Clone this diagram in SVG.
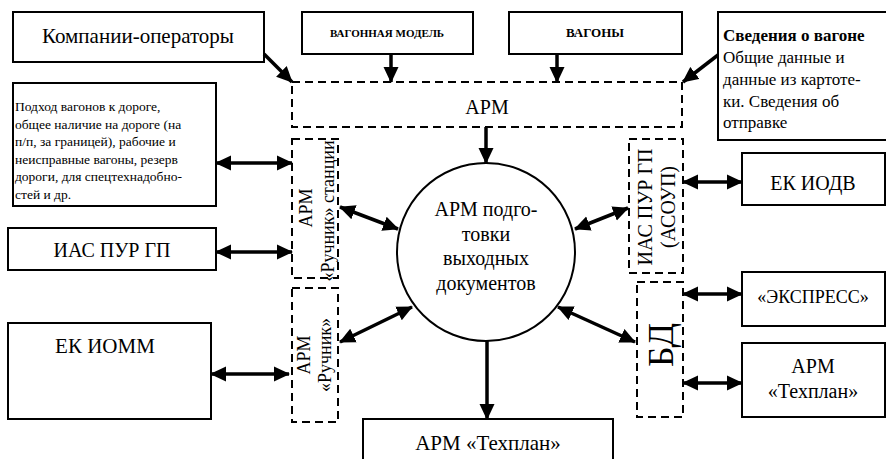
<svg xmlns="http://www.w3.org/2000/svg" width="886" height="459" viewBox="0 0 886 459">
  <defs>
    <marker id="head" viewBox="0 0 16 16" refX="15" refY="8" markerWidth="16" markerHeight="16" markerUnits="userSpaceOnUse" orient="auto-start-reverse">
      <path d="M0,0.5 L16,8 L0,15.5 z" fill="#000"/>
    </marker>
  </defs>
  <rect width="886" height="459" fill="#fff"/>

  <!-- top sources -->
  <g id="operators">
    <rect x="13" y="12" width="251" height="50" fill="#fff" stroke="#000" stroke-width="2"/>
    <text x="138" y="43" font-family="Liberation Serif" font-size="21" text-anchor="middle">Компании-операторы</text>
  </g>
  <g id="wagon-model">
    <rect x="302" y="12" width="171" height="42" fill="#fff" stroke="#000" stroke-width="2"/>
    <text x="387" y="37" font-family="Liberation Serif" font-size="11" font-weight="bold" text-anchor="middle">ВАГОННАЯ МОДЕЛЬ</text>
  </g>
  <g id="wagons">
    <rect x="509" y="12" width="173" height="42" fill="#fff" stroke="#000" stroke-width="2"/>
    <text x="595" y="37" font-family="Liberation Serif" font-size="13" font-weight="bold" text-anchor="middle">ВАГОНЫ</text>
  </g>
  <g id="wagon-info">
    <rect x="718" y="12" width="172" height="128" fill="#fff" stroke="#000" stroke-width="2"/>
    <text x="723" y="41" font-family="Liberation Serif" font-size="17" font-weight="bold">Сведения о вагоне</text>
    <text x="723" y="63" font-family="Liberation Serif" font-size="17">Общие данные и</text>
    <text x="723" y="85" font-family="Liberation Serif" font-size="17">данные из картоте-</text>
    <text x="723" y="107" font-family="Liberation Serif" font-size="17">ки. Сведения об</text>
    <text x="723" y="128" font-family="Liberation Serif" font-size="17">отправке</text>
  </g>

  <!-- collecting workstation -->
  <g id="arm-top">
    <rect x="292" y="82" width="390" height="45" fill="none" stroke="#000" stroke-width="2" stroke-dasharray="8 5"/>
    <text x="487" y="114" font-family="Liberation Serif" font-size="20" text-anchor="middle">АРМ</text>
  </g>

  <!-- left side -->
  <g id="approach">
    <rect x="13" y="83" width="203" height="123" fill="#fff" stroke="#000" stroke-width="2"/>
    <text x="15" y="111" font-family="Liberation Serif" font-size="13.5">Подход вагонов к дороге,</text>
    <text x="15" y="128.5" font-family="Liberation Serif" font-size="13.5">общее наличие на дороге (на</text>
    <text x="15" y="146" font-family="Liberation Serif" font-size="13.5">п/п, за границей), рабочие и</text>
    <text x="15" y="163.5" font-family="Liberation Serif" font-size="13.5">неисправные вагоны, резерв</text>
    <text x="15" y="181" font-family="Liberation Serif" font-size="13.5">дороги, для спецтехнадобно-</text>
    <text x="15" y="198.5" font-family="Liberation Serif" font-size="13.5">стей и др.</text>
  </g>
  <g id="ias-left">
    <rect x="8" y="228" width="208" height="42" fill="#fff" stroke="#000" stroke-width="2"/>
    <text x="112" y="257" font-family="Liberation Serif" font-size="20" text-anchor="middle">ИАС ПУР ГП</text>
  </g>
  <g id="ek-iomm">
    <rect x="8" y="323" width="203" height="96" fill="#fff" stroke="#000" stroke-width="2"/>
    <text x="105" y="353" font-family="Liberation Serif" font-size="21" text-anchor="middle">ЕК ИОММ</text>
  </g>
  <g id="arm-station">
    <rect x="292" y="139" width="46" height="139" fill="none" stroke="#000" stroke-width="2" stroke-dasharray="8 5"/>
    <text font-family="Liberation Serif" font-size="18" text-anchor="middle" transform="translate(312,208) rotate(-90)">АРМ</text>
    <text font-family="Liberation Serif" font-size="18" text-anchor="middle" transform="translate(334,211) rotate(-90)">«Ручник» станции</text>
  </g>
  <g id="arm-manual">
    <rect x="292" y="288" width="46" height="134" fill="none" stroke="#000" stroke-width="2" stroke-dasharray="8 5"/>
    <text font-family="Liberation Serif" font-size="18" text-anchor="middle" transform="translate(310,355) rotate(-90)">АРМ</text>
    <text font-family="Liberation Serif" font-size="18" text-anchor="middle" transform="translate(331,355) rotate(-90)">«Ручник»</text>
  </g>

  <!-- centre -->
  <g id="arm-output">
    <circle cx="486" cy="252" r="89" fill="#fff" stroke="#000" stroke-width="2"/>
    <text x="486" y="216" font-family="Liberation Serif" font-size="20" text-anchor="middle">АРМ подго-</text>
    <text x="486" y="241" font-family="Liberation Serif" font-size="20" text-anchor="middle">товки</text>
    <text x="486" y="265" font-family="Liberation Serif" font-size="20" text-anchor="middle">выходных</text>
    <text x="486" y="290" font-family="Liberation Serif" font-size="20" text-anchor="middle">документов</text>
  </g>

  <!-- right side -->
  <g id="ias-asoup">
    <rect x="629" y="139" width="54" height="134" fill="none" stroke="#000" stroke-width="2" stroke-dasharray="8 5"/>
    <text font-family="Liberation Serif" font-size="20" text-anchor="middle" transform="translate(652,207) rotate(-90)">ИАС ПУР ГП</text>
    <text font-family="Liberation Serif" font-size="20" text-anchor="middle" transform="translate(675,207) rotate(-90)">(АСОУП)</text>
  </g>
  <g id="db">
    <rect x="637" y="282" width="46" height="135" fill="none" stroke="#000" stroke-width="2" stroke-dasharray="8 5"/>
    <text font-family="Liberation Serif" font-size="36" text-anchor="middle" transform="translate(673,345) rotate(-90)">БД</text>
  </g>
  <g id="ek-iodv">
    <rect x="742" y="153" width="143" height="52" fill="#fff" stroke="#000" stroke-width="2"/>
    <text x="813" y="190" font-family="Liberation Serif" font-size="20" text-anchor="middle">ЕК ИОДВ</text>
  </g>
  <g id="express">
    <rect x="742" y="272" width="143" height="54" fill="#fff" stroke="#000" stroke-width="2"/>
    <text x="813" y="303" font-family="Liberation Serif" font-size="18" text-anchor="middle">«ЭКСПРЕСС»</text>
  </g>
  <g id="techplan-right">
    <rect x="742" y="343" width="143" height="74" fill="#fff" stroke="#000" stroke-width="2"/>
    <text x="813" y="373" font-family="Liberation Serif" font-size="20" text-anchor="middle">АРМ</text>
    <text x="813" y="398" font-family="Liberation Serif" font-size="20" text-anchor="middle">«Техплан»</text>
  </g>

  <!-- bottom -->
  <g id="techplan-bottom">
    <rect x="363" y="419" width="250" height="60" fill="#fff" stroke="#000" stroke-width="2"/>
    <text x="488" y="450" font-family="Liberation Serif" font-size="21" text-anchor="middle">АРМ «Техплан»</text>
  </g>

  <!-- connectors: single-headed arrows, then double-headed links -->
  <g id="connectors" stroke="#000" stroke-width="3.5" fill="none" marker-end="url(#head)">
    <line x1="264" y1="54" x2="292" y2="82"/>
    <line x1="391" y1="54" x2="391" y2="82"/>
    <line x1="557" y1="54" x2="557" y2="82"/>
    <line x1="718" y1="55" x2="683" y2="82"/>
    <line x1="486" y1="127" x2="486" y2="163"/>
    <line x1="487" y1="341" x2="487" y2="419"/>
    <g marker-start="url(#head)">
      <line x1="216" y1="163" x2="292" y2="163"/>
      <line x1="216" y1="252" x2="292" y2="252"/>
      <line x1="211" y1="374" x2="289" y2="374"/>
      <line x1="340" y1="207" x2="398" y2="229"/>
      <line x1="340" y1="342" x2="412" y2="307"/>
      <line x1="628" y1="208" x2="575" y2="229"/>
      <line x1="635" y1="342" x2="558" y2="307"/>
      <line x1="683" y1="182" x2="742" y2="182"/>
      <line x1="683" y1="294" x2="742" y2="294"/>
      <line x1="683" y1="383" x2="742" y2="383"/>
    </g>
  </g>
</svg>
